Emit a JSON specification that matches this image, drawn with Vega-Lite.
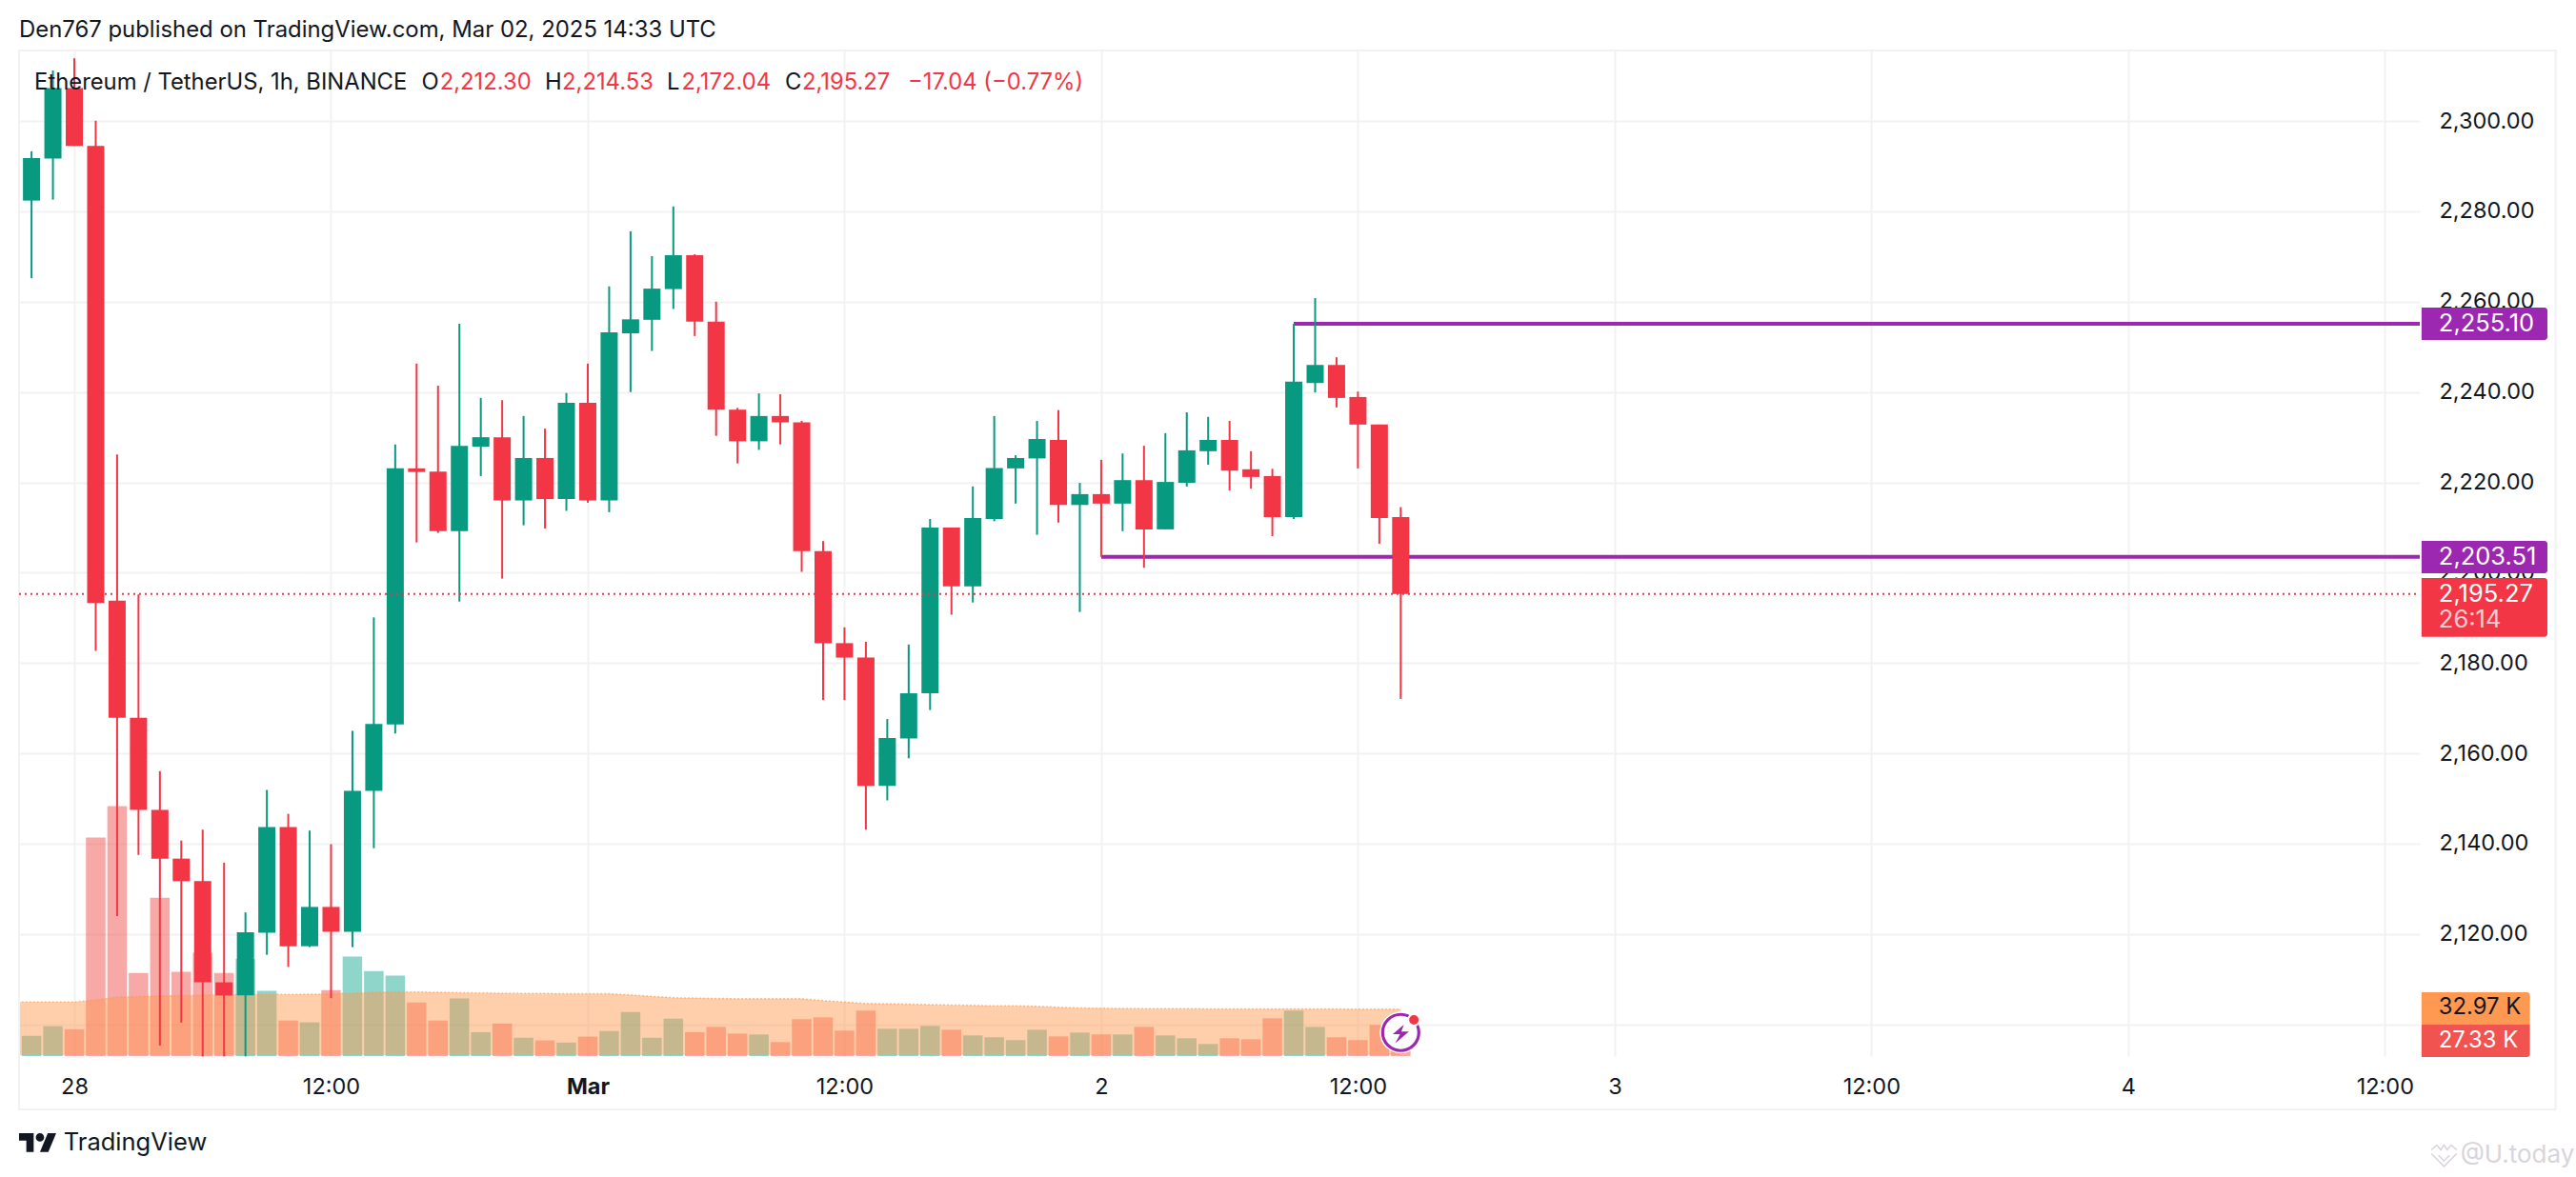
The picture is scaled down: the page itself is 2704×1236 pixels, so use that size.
{"$schema":"https://vega.github.io/schema/vega-lite/v6.json","width":2520,"height":1056,"autosize":{"type":"none"},"padding":{"left":20,"top":53,"right":164,"bottom":127},"background":"#ffffff",
"title":{"text":"Den767 published on TradingView.com, Mar 02, 2025 14:33 UTC","anchor":"start","frame":"group","offset":8,"font":"Inter","fontSize":23.9,"fontWeight":400,"color":"#131722"},
"config":{"view":{"stroke":null},"text":{"font":"Inter","fontSize":23.8,"baseline":"middle","align":"left"}},
"datasets":{"candles":[
{"t":"2025-02-27T22:00:00Z","o":2282.4,"h":2293.3,"l":2265.2,"c":2291.8,"v":14.2},
{"t":"2025-02-27T23:00:00Z","o":2291.7,"h":2311.2,"l":2282.6,"c":2307.3,"v":21},
{"t":"2025-02-28T00:00:00Z","o":2307.3,"h":2313.9,"l":2294.5,"c":2294.5,"v":18.9},
{"t":"2025-02-28T01:00:00Z","o":2294.5,"h":2300.1,"l":2182.7,"c":2193.3,"v":153.7},
{"t":"2025-02-28T02:00:00Z","o":2193.8,"h":2226.2,"l":2124,"c":2167.9,"v":175.8},
{"t":"2025-02-28T03:00:00Z","o":2167.9,"h":2195.2,"l":2137.5,"c":2147.5,"v":58.4},
{"t":"2025-02-28T04:00:00Z","o":2147.5,"h":2156.1,"l":2095.3,"c":2136.7,"v":111.3},
{"t":"2025-02-28T05:00:00Z","o":2136.7,"h":2140.7,"l":2100.4,"c":2131.7,"v":59.2},
{"t":"2025-02-28T06:00:00Z","o":2131.7,"h":2143.1,"l":2092.9,"c":2109.3,"v":72.6},
{"t":"2025-02-28T07:00:00Z","o":2109.3,"h":2135.8,"l":2092.9,"c":2106.4,"v":58.4},
{"t":"2025-02-28T08:00:00Z","o":2106.4,"h":2124.8,"l":2092.9,"c":2120.4,"v":68.4},
{"t":"2025-02-28T09:00:00Z","o":2120.3,"h":2151.9,"l":2115.4,"c":2143.7,"v":45.8},
{"t":"2025-02-28T10:00:00Z","o":2143.7,"h":2146.6,"l":2112.7,"c":2117.3,"v":25},
{"t":"2025-02-28T11:00:00Z","o":2117.3,"h":2142.9,"l":2117.1,"c":2126,"v":23.7},
{"t":"2025-02-28T12:00:00Z","o":2126,"h":2139.9,"l":2105.8,"c":2120.5,"v":46.3},
{"t":"2025-02-28T13:00:00Z","o":2120.5,"h":2165,"l":2117.1,"c":2151.7,"v":70},
{"t":"2025-02-28T14:00:00Z","o":2151.7,"h":2190.1,"l":2139,"c":2166.5,"v":59.7},
{"t":"2025-02-28T15:00:00Z","o":2166.4,"h":2228.4,"l":2164.4,"c":2223.1,"v":56.6},
{"t":"2025-02-28T16:00:00Z","o":2223.1,"h":2246.3,"l":2206.7,"c":2222.3,"v":37.6},
{"t":"2025-02-28T17:00:00Z","o":2222.4,"h":2241.4,"l":2208.8,"c":2209.2,"v":25},
{"t":"2025-02-28T18:00:00Z","o":2209.2,"h":2255.1,"l":2193.6,"c":2228.1,"v":40.5},
{"t":"2025-02-28T19:00:00Z","o":2227.9,"h":2238.7,"l":2221.4,"c":2230,"v":16.8},
{"t":"2025-02-28T20:00:00Z","o":2230,"h":2238.2,"l":2198.7,"c":2216,"v":22.9},
{"t":"2025-02-28T21:00:00Z","o":2216,"h":2234.7,"l":2210.5,"c":2225.4,"v":12.9},
{"t":"2025-02-28T22:00:00Z","o":2225.4,"h":2231.9,"l":2209.8,"c":2216.3,"v":11},
{"t":"2025-02-28T23:00:00Z","o":2216.3,"h":2239.8,"l":2213.7,"c":2237.6,"v":9.5},
{"t":"2025-03-01T00:00:00Z","o":2237.6,"h":2246.3,"l":2215.5,"c":2216,"v":13.7},
{"t":"2025-03-01T01:00:00Z","o":2216,"h":2263.4,"l":2213.4,"c":2253.2,"v":17.6},
{"t":"2025-03-01T02:00:00Z","o":2253,"h":2275.6,"l":2240,"c":2256.1,"v":31},
{"t":"2025-03-01T03:00:00Z","o":2256,"h":2270.1,"l":2249.1,"c":2262.9,"v":12.9},
{"t":"2025-03-01T04:00:00Z","o":2262.8,"h":2281.1,"l":2258.4,"c":2270.3,"v":26.3},
{"t":"2025-03-01T05:00:00Z","o":2270.3,"h":2270.5,"l":2252.4,"c":2255.6,"v":16.8},
{"t":"2025-03-01T06:00:00Z","o":2255.6,"h":2260,"l":2230.3,"c":2236.1,"v":20.5},
{"t":"2025-03-01T07:00:00Z","o":2236.1,"h":2236.5,"l":2224.2,"c":2229.1,"v":15.8},
{"t":"2025-03-01T08:00:00Z","o":2229.1,"h":2239.7,"l":2227.2,"c":2234.7,"v":15.2},
{"t":"2025-03-01T09:00:00Z","o":2234.7,"h":2239.5,"l":2228.4,"c":2233.3,"v":9.8},
{"t":"2025-03-01T10:00:00Z","o":2233.3,"h":2233.6,"l":2200.2,"c":2204.8,"v":25.9},
{"t":"2025-03-01T11:00:00Z","o":2204.8,"h":2207,"l":2171.8,"c":2184.4,"v":27.2},
{"t":"2025-03-01T12:00:00Z","o":2184.4,"h":2187.9,"l":2171.8,"c":2181.2,"v":17.9},
{"t":"2025-03-01T13:00:00Z","o":2181.2,"h":2184.7,"l":2143.1,"c":2152.8,"v":31.9},
{"t":"2025-03-01T14:00:00Z","o":2152.8,"h":2167.6,"l":2149.6,"c":2163.4,"v":19.2},
{"t":"2025-03-01T15:00:00Z","o":2163.3,"h":2184.1,"l":2158.9,"c":2173.3,"v":19.2},
{"t":"2025-03-01T16:00:00Z","o":2173.3,"h":2211.9,"l":2169.6,"c":2210,"v":21.2},
{"t":"2025-03-01T17:00:00Z","o":2210,"h":2210,"l":2190.7,"c":2197,"v":18.5},
{"t":"2025-03-01T18:00:00Z","o":2197,"h":2219.1,"l":2193.4,"c":2212.1,"v":14.5},
{"t":"2025-03-01T19:00:00Z","o":2211.9,"h":2234.7,"l":2211.4,"c":2223.2,"v":13.2},
{"t":"2025-03-01T20:00:00Z","o":2223.1,"h":2226,"l":2215.3,"c":2225.4,"v":11.2},
{"t":"2025-03-01T21:00:00Z","o":2225.3,"h":2233.6,"l":2208.4,"c":2229.6,"v":18.5},
{"t":"2025-03-01T22:00:00Z","o":2229.4,"h":2236,"l":2211.1,"c":2215,"v":13.8},
{"t":"2025-03-01T23:00:00Z","o":2215,"h":2219.9,"l":2191.3,"c":2217.4,"v":16.5},
{"t":"2025-03-02T00:00:00Z","o":2217.4,"h":2225,"l":2203.51,"c":2215.3,"v":15.2},
{"t":"2025-03-02T01:00:00Z","o":2215.3,"h":2226.4,"l":2209.2,"c":2220.5,"v":15.2},
{"t":"2025-03-02T02:00:00Z","o":2220.5,"h":2228.1,"l":2201.1,"c":2209.6,"v":20.5},
{"t":"2025-03-02T03:00:00Z","o":2209.6,"h":2230.9,"l":2209.6,"c":2220.1,"v":14.5},
{"t":"2025-03-02T04:00:00Z","o":2219.9,"h":2235.5,"l":2219.1,"c":2227.1,"v":12.5},
{"t":"2025-03-02T05:00:00Z","o":2226.9,"h":2234.5,"l":2223.9,"c":2229.4,"v":8.5},
{"t":"2025-03-02T06:00:00Z","o":2229.4,"h":2233.6,"l":2218.2,"c":2222.6,"v":12.5},
{"t":"2025-03-02T07:00:00Z","o":2222.9,"h":2226.9,"l":2218.6,"c":2221.2,"v":11.8},
{"t":"2025-03-02T08:00:00Z","o":2221.4,"h":2223,"l":2208.1,"c":2212.3,"v":26.6},
{"t":"2025-03-02T09:00:00Z","o":2212.3,"h":2255.1,"l":2211.9,"c":2242.3,"v":31.9},
{"t":"2025-03-02T10:00:00Z","o":2242,"h":2260.8,"l":2239.9,"c":2246,"v":20.5},
{"t":"2025-03-02T11:00:00Z","o":2246,"h":2247.7,"l":2236.6,"c":2238.7,"v":13.2},
{"t":"2025-03-02T12:00:00Z","o":2238.9,"h":2240.1,"l":2223.1,"c":2232.8,"v":11.2},
{"t":"2025-03-02T13:00:00Z","o":2232.8,"h":2232.8,"l":2206.4,"c":2212.1,"v":21.9},
{"t":"2025-03-02T14:00:00Z","o":2212.3,"h":2214.53,"l":2172.04,"c":2195.27,"v":27.33}
],
"ma":[
{"t":"2025-02-27T21:00:00Z","ma":38},{"t":"2025-02-27T22:00:00Z","ma":38},{"t":"2025-02-27T23:00:00Z","ma":38},{"t":"2025-02-28T00:00:00Z","ma":38},{"t":"2025-02-28T01:00:00Z","ma":39.5},{"t":"2025-02-28T02:00:00Z","ma":41.5},{"t":"2025-02-28T03:00:00Z","ma":41.8},{"t":"2025-02-28T04:00:00Z","ma":42.3},{"t":"2025-02-28T05:00:00Z","ma":42.5},{"t":"2025-02-28T06:00:00Z","ma":42.8},{"t":"2025-02-28T07:00:00Z","ma":43},{"t":"2025-02-28T08:00:00Z","ma":43.3},{"t":"2025-02-28T09:00:00Z","ma":43.4},{"t":"2025-02-28T10:00:00Z","ma":43.4},{"t":"2025-02-28T11:00:00Z","ma":43.5},{"t":"2025-02-28T12:00:00Z","ma":43.7},{"t":"2025-02-28T13:00:00Z","ma":44.2},{"t":"2025-02-28T14:00:00Z","ma":44.7},{"t":"2025-02-28T15:00:00Z","ma":45},{"t":"2025-02-28T16:00:00Z","ma":45},{"t":"2025-02-28T17:00:00Z","ma":44.9},{"t":"2025-02-28T18:00:00Z","ma":44.6},{"t":"2025-02-28T19:00:00Z","ma":44.4},{"t":"2025-02-28T20:00:00Z","ma":44.2},{"t":"2025-02-28T21:00:00Z","ma":44.1},{"t":"2025-02-28T22:00:00Z","ma":44},{"t":"2025-02-28T23:00:00Z","ma":43.9},{"t":"2025-03-01T00:00:00Z","ma":43.9},{"t":"2025-03-01T01:00:00Z","ma":43.8},{"t":"2025-03-01T02:00:00Z","ma":43},{"t":"2025-03-01T03:00:00Z","ma":42},{"t":"2025-03-01T04:00:00Z","ma":41},{"t":"2025-03-01T05:00:00Z","ma":40.8},{"t":"2025-03-01T06:00:00Z","ma":40.5},{"t":"2025-03-01T07:00:00Z","ma":40.4},{"t":"2025-03-01T08:00:00Z","ma":40.3},{"t":"2025-03-01T09:00:00Z","ma":40.4},{"t":"2025-03-01T10:00:00Z","ma":40.3},{"t":"2025-03-01T11:00:00Z","ma":39},{"t":"2025-03-01T12:00:00Z","ma":38},{"t":"2025-03-01T13:00:00Z","ma":37},{"t":"2025-03-01T14:00:00Z","ma":36.8},{"t":"2025-03-01T15:00:00Z","ma":36.5},{"t":"2025-03-01T16:00:00Z","ma":36.2},{"t":"2025-03-01T17:00:00Z","ma":35.9},{"t":"2025-03-01T18:00:00Z","ma":35.6},{"t":"2025-03-01T19:00:00Z","ma":35.3},{"t":"2025-03-01T20:00:00Z","ma":35.3},{"t":"2025-03-01T21:00:00Z","ma":35},{"t":"2025-03-01T22:00:00Z","ma":34.3},{"t":"2025-03-01T23:00:00Z","ma":33.8},{"t":"2025-03-02T00:00:00Z","ma":33.6},{"t":"2025-03-02T01:00:00Z","ma":33.5},{"t":"2025-03-02T02:00:00Z","ma":33.4},{"t":"2025-03-02T03:00:00Z","ma":33.4},{"t":"2025-03-02T04:00:00Z","ma":33.3},{"t":"2025-03-02T05:00:00Z","ma":33.2},{"t":"2025-03-02T06:00:00Z","ma":33.2},{"t":"2025-03-02T07:00:00Z","ma":33.1},{"t":"2025-03-02T08:00:00Z","ma":33.1},{"t":"2025-03-02T09:00:00Z","ma":33.2},{"t":"2025-03-02T10:00:00Z","ma":33.2},{"t":"2025-03-02T11:00:00Z","ma":33.1},{"t":"2025-03-02T12:00:00Z","ma":33},{"t":"2025-03-02T13:00:00Z","ma":33},{"t":"2025-03-02T14:00:00Z","ma":32.97}
]},
"resolve":{"scale":{"y":"independent"}},
"layer":[
{"layer":[
{"data":{"name":"candles"},"mark":{"type":"bar","size":20.5,"opacity":0.5},"encoding":{"x":{"field":"t","type":"temporal","scale":{"type":"utc","padding":0,"domain":["2025-02-27T21:25:00Z","2025-03-04T13:38:00Z"]},"axis":{"title":null,"values":["2025-02-28T00:00:00Z","2025-02-28T12:00:00Z","2025-03-01T00:00:00Z","2025-03-01T12:00:00Z","2025-03-02T00:00:00Z","2025-03-02T12:00:00Z","2025-03-03T00:00:00Z","2025-03-03T12:00:00Z","2025-03-04T00:00:00Z","2025-03-04T12:00:00Z"],"labelExpr":"utchours(datum.value)==12 ? '12:00' : (utcmonth(datum.value)==2 && utcdate(datum.value)==1 ? 'Mar' : utcFormat(datum.value,'%-d'))","labelFont":"Inter","labelFontSize":23.5,"labelColor":"#131722","labelPadding":20,"labelFontWeight":{"condition":{"test":"utchours(datum.value)==0 && utcmonth(datum.value)==2 && utcdate(datum.value)==1","value":700},"value":400},"labelFlush":false,"labelOverlap":false,"domain":false,"ticks":false,"grid":true,"gridColor":"#f2f2f3","gridWidth":2}},"y":{"field":"v","type":"quantitative","scale":{"domain":[0,707.3],"nice":false,"zero":false},"axis":null},"color":{"condition":{"test":"datum.c>=datum.o","value":"#22AB94"},"value":"#F05350"}}},
{"data":{"name":"ma"},"mark":{"type":"area","color":"#FF9850","opacity":0.48,"clip":true},"encoding":{"x":{"field":"t","type":"temporal"},"y":{"field":"ma","type":"quantitative"},"y2":{"datum":0.7}}},
{"data":{"name":"ma"},"mark":{"type":"line","color":"#FF9850","opacity":0.6,"strokeWidth":1.5,"strokeDash":[2,2],"clip":true},"encoding":{"x":{"field":"t","type":"temporal"},"y":{"field":"ma","type":"quantitative"}}}
]},
{"layer":[
{"data":{"values":[{}]},"mark":{"type":"rect","fill":null,"stroke":"#f2f2f3","strokeWidth":2},"encoding":{"x":{"datum":{"year":2025,"month":2,"date":27,"hours":21,"minutes":25,"utc":true},"type":"temporal"},"x2":{"datum":{"year":2025,"month":3,"date":4,"hours":19,"minutes":59,"utc":true}},"y":{"datum":2315.63,"type":"quantitative"},"y2":{"datum":2081.18}}},
{"data":{"values":[{}]},"mark":{"type":"rule","color":"#9C27B0","strokeWidth":4},"encoding":{"x":{"datum":{"year":2025,"month":3,"date":2,"hours":9,"minutes":0,"utc":true},"type":"temporal"},"x2":{"datum":{"year":2025,"month":3,"date":4,"hours":13,"minutes":38,"utc":true}},"y":{"datum":2255.1,"type":"quantitative"}}},
{"data":{"values":[{}]},"mark":{"type":"rule","color":"#9C27B0","strokeWidth":4},"encoding":{"x":{"datum":{"year":2025,"month":3,"date":2,"hours":0,"minutes":0,"utc":true},"type":"temporal"},"x2":{"datum":{"year":2025,"month":3,"date":4,"hours":13,"minutes":38,"utc":true}},"y":{"datum":2203.51,"type":"quantitative"}}},
{"data":{"name":"candles"},"mark":{"type":"rule","strokeWidth":2},"encoding":{"x":{"field":"t","type":"temporal"},"y":{"field":"l","type":"quantitative","scale":{"domain":[2092.98,2315.63],"nice":false,"zero":false},"axis":{"title":null,"orient":"right","values":[2100,2120,2140,2160,2180,2200,2220,2240,2260,2280,2300],"format":",.2f","labelFont":"Inter","labelFontSize":23.5,"labelColor":"#131722","labelPadding":20,"labelAlign":"left","domain":false,"ticks":false,"grid":true,"gridColor":"#f2f2f3","gridWidth":2}},"y2":{"field":"h"},"color":{"condition":{"test":"datum.c>=datum.o","value":"#089981"},"value":"#F23645"}}},
{"data":{"name":"candles"},"mark":{"type":"bar","size":18},"encoding":{"x":{"field":"t","type":"temporal"},"y":{"field":"o","type":"quantitative"},"y2":{"field":"c"},"color":{"condition":{"test":"datum.c>=datum.o","value":"#089981"},"value":"#F23645"}}},
{"data":{"values":[{}]},"mark":{"type":"rule","color":"#F23645","strokeWidth":2,"strokeDash":[2,4]},"encoding":{"x":{"datum":{"year":2025,"month":2,"date":27,"hours":21,"minutes":25,"utc":true},"type":"temporal"},"x2":{"datum":{"year":2025,"month":3,"date":4,"hours":13,"minutes":30,"utc":true}},"y":{"datum":2195.27,"type":"quantitative"}}},
{"data":{"values":[{}]},"mark":{"type":"point","filled":true,"fill":"#ffffff","stroke":null,"size":1936,"opacity":1},"encoding":{"x":{"datum":{"year":2025,"month":3,"date":2,"hours":14,"minutes":0,"utc":true},"type":"temporal"},"y":{"datum":2098.2,"type":"quantitative"}}},
{"data":{"values":[{}]},"mark":{"type":"point","filled":false,"stroke":"#9C27B0","strokeWidth":3.2,"size":1444,"opacity":1},"encoding":{"x":{"datum":{"year":2025,"month":3,"date":2,"hours":14,"minutes":0,"utc":true},"type":"temporal"},"y":{"datum":2098.2,"type":"quantitative"}}},
{"data":{"values":[{}]},"mark":{"type":"point","filled":true,"fill":"#9C27B0","stroke":null,"size":1600,"opacity":1,"shape":"M0.167,-0.417L-0.417,0.083L-0.033,0.083L-0.283,0.567L0.433,-0.05L0.033,-0.05Z"},"encoding":{"x":{"datum":{"year":2025,"month":3,"date":2,"hours":14,"minutes":0,"utc":true},"type":"temporal"},"y":{"datum":2098.2,"type":"quantitative"}}},
{"data":{"values":[{}]},"mark":{"type":"point","filled":true,"fill":"#F23645","stroke":"#ffffff","strokeWidth":2,"size":144,"opacity":1},"encoding":{"x":{"datum":{"year":2025,"month":3,"date":2,"hours":14,"minutes":37,"utc":true},"type":"temporal"},"y":{"datum":2101,"type":"quantitative"}}},
{"data":{"values":[{}]},"mark":{"type":"rect","fill":"#9C27B0","cornerRadiusTopRight":3,"cornerRadiusBottomRight":3},"encoding":{"x":{"datum":{"year":2025,"month":3,"date":4,"hours":13,"minutes":43,"utc":true},"type":"temporal"},"x2":{"datum":{"year":2025,"month":3,"date":4,"hours":19,"minutes":36,"utc":true}},"y":{"datum":2258.7,"type":"quantitative"},"y2":{"datum":2251.53}}},
{"data":{"values":[{}]},"mark":{"type":"rect","fill":"#9C27B0","cornerRadiusTopRight":3,"cornerRadiusBottomRight":3},"encoding":{"x":{"datum":{"year":2025,"month":3,"date":4,"hours":13,"minutes":43,"utc":true},"type":"temporal"},"x2":{"datum":{"year":2025,"month":3,"date":4,"hours":19,"minutes":36,"utc":true}},"y":{"datum":2207.05,"type":"quantitative"},"y2":{"datum":2199.88}}},
{"data":{"values":[{}]},"mark":{"type":"rect","fill":"#F23645","cornerRadiusTopRight":3,"cornerRadiusBottomRight":3},"encoding":{"x":{"datum":{"year":2025,"month":3,"date":4,"hours":13,"minutes":43,"utc":true},"type":"temporal"},"x2":{"datum":{"year":2025,"month":3,"date":4,"hours":19,"minutes":36,"utc":true}},"y":{"datum":2198.82,"type":"quantitative"},"y2":{"datum":2185.82}}},
{"data":{"values":[{}]},"mark":{"type":"rect","fill":"#FF9850","cornerRadiusTopRight":3},"encoding":{"x":{"datum":{"year":2025,"month":3,"date":4,"hours":13,"minutes":43,"utc":true},"type":"temporal"},"x2":{"datum":{"year":2025,"month":3,"date":4,"hours":18,"minutes":47,"utc":true}},"y":{"datum":2107.11,"type":"quantitative"},"y2":{"datum":2099.94}}},
{"data":{"values":[{}]},"mark":{"type":"rect","fill":"#F05350","cornerRadiusBottomRight":3},"encoding":{"x":{"datum":{"year":2025,"month":3,"date":4,"hours":13,"minutes":43,"utc":true},"type":"temporal"},"x2":{"datum":{"year":2025,"month":3,"date":4,"hours":18,"minutes":47,"utc":true}},"y":{"datum":2099.94,"type":"quantitative"},"y2":{"datum":2092.77}}},
{"data":{"values":[{}]},"mark":{"type":"text","color":"#ffffff","fontSize":25.5},"encoding":{"x":{"datum":{"year":2025,"month":3,"date":4,"hours":14,"minutes":31,"utc":true},"type":"temporal"},"y":{"datum":2255.1,"type":"quantitative"},"text":{"value":"2,255.10"}}},
{"data":{"values":[{}]},"mark":{"type":"text","color":"#ffffff","fontSize":25.5},"encoding":{"x":{"datum":{"year":2025,"month":3,"date":4,"hours":14,"minutes":31,"utc":true},"type":"temporal"},"y":{"datum":2203.51,"type":"quantitative"},"text":{"value":"2,203.51"}}},
{"data":{"values":[{}]},"mark":{"type":"text","color":"#ffffff","fontSize":25.5},"encoding":{"x":{"datum":{"year":2025,"month":3,"date":4,"hours":14,"minutes":31,"utc":true},"type":"temporal"},"y":{"datum":2195.27,"type":"quantitative"},"text":{"value":"2,195.27"}}},
{"data":{"values":[{}]},"mark":{"type":"text","color":"#ffffff","opacity":0.75,"fontSize":25.5},"encoding":{"x":{"datum":{"year":2025,"month":3,"date":4,"hours":14,"minutes":31,"utc":true},"type":"temporal"},"y":{"datum":2189.6,"type":"quantitative"},"text":{"value":"26:14"}}},
{"data":{"values":[{}]},"mark":{"type":"text","color":"#131722"},"encoding":{"x":{"datum":{"year":2025,"month":3,"date":4,"hours":14,"minutes":31,"utc":true},"type":"temporal"},"y":{"datum":2103.74,"type":"quantitative"},"text":{"value":"32.97 K"}}},
{"data":{"values":[{}]},"mark":{"type":"text","color":"#ffffff"},"encoding":{"x":{"datum":{"year":2025,"month":3,"date":4,"hours":14,"minutes":31,"utc":true},"type":"temporal"},"y":{"datum":2096.36,"type":"quantitative"},"text":{"value":"27.33 K"}}},
{"data":{"values":[{}]},"mark":{"type":"text","color":"#131722"},"encoding":{"x":{"datum":{"year":2025,"month":2,"date":27,"hours":22,"minutes":8,"utc":true},"type":"temporal"},"y":{"datum":2308.4,"type":"quantitative"},"text":{"value":"Ethereum / TetherUS, 1h, BINANCE"}}},
{"data":{"values":[{}]},"mark":{"type":"text","color":"#131722"},"encoding":{"x":{"datum":{"year":2025,"month":2,"date":28,"hours":16,"minutes":14,"utc":true},"type":"temporal"},"y":{"datum":2308.4,"type":"quantitative"},"text":{"value":"O"}}},
{"data":{"values":[{}]},"mark":{"type":"text","color":"#F23645"},"encoding":{"x":{"datum":{"year":2025,"month":2,"date":28,"hours":17,"minutes":5,"utc":true},"type":"temporal"},"y":{"datum":2308.4,"type":"quantitative"},"text":{"value":"2,212.30"}}},
{"data":{"values":[{}]},"mark":{"type":"text","color":"#131722"},"encoding":{"x":{"datum":{"year":2025,"month":2,"date":28,"hours":22,"minutes":0,"utc":true},"type":"temporal"},"y":{"datum":2308.4,"type":"quantitative"},"text":{"value":"H"}}},
{"data":{"values":[{}]},"mark":{"type":"text","color":"#F23645"},"encoding":{"x":{"datum":{"year":2025,"month":2,"date":28,"hours":22,"minutes":48,"utc":true},"type":"temporal"},"y":{"datum":2308.4,"type":"quantitative"},"text":{"value":"2,214.53"}}},
{"data":{"values":[{}]},"mark":{"type":"text","color":"#131722"},"encoding":{"x":{"datum":{"year":2025,"month":3,"date":1,"hours":3,"minutes":42,"utc":true},"type":"temporal"},"y":{"datum":2308.4,"type":"quantitative"},"text":{"value":"L"}}},
{"data":{"values":[{}]},"mark":{"type":"text","color":"#F23645"},"encoding":{"x":{"datum":{"year":2025,"month":3,"date":1,"hours":4,"minutes":23,"utc":true},"type":"temporal"},"y":{"datum":2308.4,"type":"quantitative"},"text":{"value":"2,172.04"}}},
{"data":{"values":[{}]},"mark":{"type":"text","color":"#131722"},"encoding":{"x":{"datum":{"year":2025,"month":3,"date":1,"hours":9,"minutes":13,"utc":true},"type":"temporal"},"y":{"datum":2308.4,"type":"quantitative"},"text":{"value":"C"}}},
{"data":{"values":[{}]},"mark":{"type":"text","color":"#F23645"},"encoding":{"x":{"datum":{"year":2025,"month":3,"date":1,"hours":10,"minutes":1,"utc":true},"type":"temporal"},"y":{"datum":2308.4,"type":"quantitative"},"text":{"value":"2,195.27"}}},
{"data":{"values":[{}]},"mark":{"type":"text","color":"#F23645"},"encoding":{"x":{"datum":{"year":2025,"month":3,"date":1,"hours":14,"minutes":58,"utc":true},"type":"temporal"},"y":{"datum":2308.4,"type":"quantitative"},"text":{"value":"−17.04 (−0.77%)"}}},
{"data":{"values":[{}]},"mark":{"type":"point","filled":true,"fill":"#131722","stroke":null,"size":1521,"opacity":1,"shape":"M-0.211,0.507L-0.606,0.507L-0.606,-0.113L-1,-0.113L-1,-0.507L-0.211,-0.507ZM0.577,0.507L0.127,0.507L0.549,-0.507L1,-0.507ZM-0.098,-0.282a0.225,0.225 0 1,0 0.45,0a0.225,0.225 0 1,0 -0.45,0Z"},"encoding":{"x":{"datum":{"year":2025,"month":2,"date":27,"hours":22,"minutes":17,"utc":true},"type":"temporal"},"y":{"datum":2073.8,"type":"quantitative"}}},
{"data":{"values":[{}]},"mark":{"type":"text","color":"#131722","fontSize":25.5},"encoding":{"x":{"datum":{"year":2025,"month":2,"date":27,"hours":23,"minutes":30,"utc":true},"type":"temporal"},"y":{"datum":2073.8,"type":"quantitative"},"text":{"value":"TradingView"}}},
{"data":{"values":[{}]},"mark":{"type":"text","color":"#d9d4da","fontSize":26},"encoding":{"x":{"datum":{"year":2025,"month":3,"date":4,"hours":15,"minutes":32,"utc":true},"type":"temporal"},"y":{"datum":2071.05,"type":"quantitative"},"text":{"value":"@U.today"}}},
{"data":{"values":[{}]},"mark":{"type":"point","filled":false,"stroke":"#d9d4da","strokeWidth":1.5,"size":1100,"opacity":1,"shape":"M-0.8,-0.1L0,0.7L0.8,-0.1M-0.8,-0.35L-0.45,-0.65L-0.2,-0.35L0,-0.65L0.2,-0.35L0.45,-0.65L0.8,-0.35M-0.35,0L0,0.35L0.35,0"},"encoding":{"x":{"datum":{"year":2025,"month":3,"date":4,"hours":14,"minutes":46,"utc":true},"type":"temporal"},"y":{"datum":2071,"type":"quantitative"}}}
]}
]}
